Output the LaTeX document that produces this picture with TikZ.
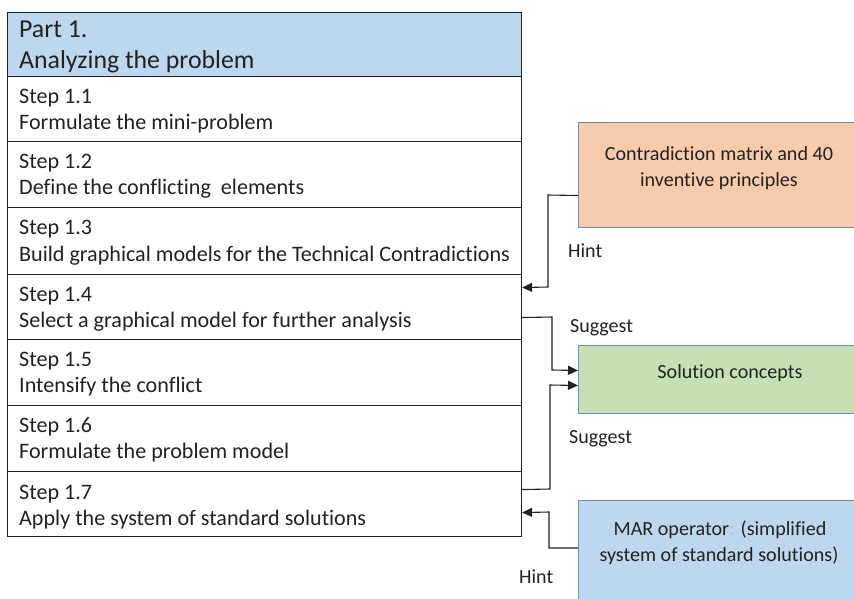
\documentclass[tikz,border=0pt]{standalone}
\usepackage{fontspec}
\setmainfont[Ligatures=NoCommon]{Carlito}
\usetikzlibrary{calc,arrows.meta}
\definecolor{hdrblue}{HTML}{BDD7EE}
\definecolor{peach}{HTML}{F8CBAD}
\definecolor{mintgreen}{HTML}{C5E0B4}
\definecolor{boxedge}{HTML}{6A8EBE}
\definecolor{ink}{HTML}{222222}
\begin{document}
\begin{tikzpicture}[x=1pt,y=-1pt,
  rowbox/.style={draw=ink, line width=1.1pt, minimum width=514pt, inner sep=0pt, anchor=north west, rectangle},
  sidebox/.style={draw=boxedge, line width=1pt, minimum width=284pt, inner sep=0pt, anchor=north west, rectangle},
  steptext/.style={anchor=base west, inner sep=0pt, font=\fontsize{22.1}{26}\selectfont, text=ink},
  hdrtext/.style={anchor=base west, inner sep=0pt, font=\fontsize{25.8}{30}\selectfont, text=ink},
  sidetext/.style={anchor=base, inner sep=0pt, font=\fontsize{20.1}{25}\selectfont, text=ink},
  tagtext/.style={anchor=base west, inner sep=0pt, font=\fontsize{20}{24}\selectfont, text=ink},
  conn/.style={draw=ink, line width=1.1pt},
  arr/.style={-{Triangle[length=10pt,width=9pt]}}]
\useasboundingbox (0,0) rectangle (854,598);
\fill[white] (0,0) rectangle (854,598);
\clip (0,0) rectangle (854,598);

% left column
\node[rowbox, fill=hdrblue, minimum height=64pt] (hd) at (7,12) {};
\node[rowbox, minimum height=65pt] (s11) at (7,76) {};
\node[rowbox, minimum height=66pt] (s12) at (7,141) {};
\node[rowbox, minimum height=67pt] (s13) at (7,207) {};
\node[rowbox, minimum height=65pt] (s14) at (7,274) {};
\node[rowbox, minimum height=66pt] (s15) at (7,339) {};
\node[rowbox, minimum height=66pt] (s16) at (7,405) {};
\node[rowbox, minimum height=65pt] (s17) at (7,471) {};

\node[hdrtext] (h1) at (19,37) {Part 1.};
\node[hdrtext] (h2) at (19,68) {Analyzing the problem};

\node[steptext] (a11) at (19,103) {Step 1.1};
\node[steptext] (b11) at (19,129) {Formulate the mini-problem};
\node[steptext] (a12) at (19,168) {Step 1.2};
\node[steptext] (b12) at (19,194) {Define the conflicting\ \ elements};
\node[steptext] (a13) at (19,234) {Step 1.3};
\node[steptext] (b13) at (19,261) {Build graphical models for the Technical Contradictions};
\node[steptext] (a14) at (19,301) {Step 1.4};
\node[steptext] (b14) at (19,327) {Select a graphical model for further analysis};
\node[steptext] (a15) at (19,366) {Step 1.5};
\node[steptext] (b15) at (19,392) {Intensify the conflict};
\node[steptext] (a16) at (19,432) {Step 1.6};
\node[steptext] (b16) at (19,458) {Formulate the problem model};
\node[steptext] (a17) at (19,499) {Step 1.7};
\node[steptext] (b17) at (19,525) {Apply the system of standard solutions};

% right boxes
\node[sidebox, fill=peach, minimum height=105pt] (cm) at (578,122) {};
\node[sidebox, fill=mintgreen, minimum height=68pt] (sc) at (578,345) {};
\node[sidebox, fill=hdrblue, minimum height=130pt] (mar) at (578,500) {};

\node[sidetext] (cm1) at (719,160) {Contradiction matrix and 40};
\node[sidetext] (cm2) at (719,186) {inventive principles};
\node[sidetext] (sc1) at (730,378) {Solution concepts};
\node[sidetext] (mar1) at (720,535) {MAR operator{\color{black!25}:} (simplified};
\node[sidetext] (mar2) at (719,561) {system of standard solutions)};

% connector labels
\node[tagtext] (hint1) at (568,257) {Hint};
\node[tagtext] (sug1) at (570,332) {Suggest};
\node[tagtext] (sug2) at (569,443) {Suggest};
\node[tagtext] (hint2) at (519,583) {Hint};

% connectors
\coordinate (c1s) at ($(cm.west)+(0,20.5)$);
\coordinate (c1e) at ($(s14.east)+(0,-19.5)$);
\draw[conn, arr] (c1s) -- (548,195) -- (548,287) -- (c1e);

\coordinate (c2s) at ($(s14.east)+(0,10.5)$);
\coordinate (c2e) at ($(sc.west)+(0,-9)$);
\draw[conn, arr] (c2s) -- (552,317) -- (552,370) -- (c2e);

\coordinate (c3s) at ($(s17.east)+(0,-14.5)$);
\coordinate (c3e) at ($(sc.west)+(0,6)$);
\draw[conn, arr] (c3s) -- (550,489) -- (550,385) -- (c3e);

\coordinate (c4s) at ($(mar.north west)+(0,48)$);
\coordinate (c4e) at ($(s17.east)+(0,8.5)$);
\draw[conn, arr] (c4s) -- (549,548) -- (549,512) -- (c4e);
\end{tikzpicture}
\end{document}
